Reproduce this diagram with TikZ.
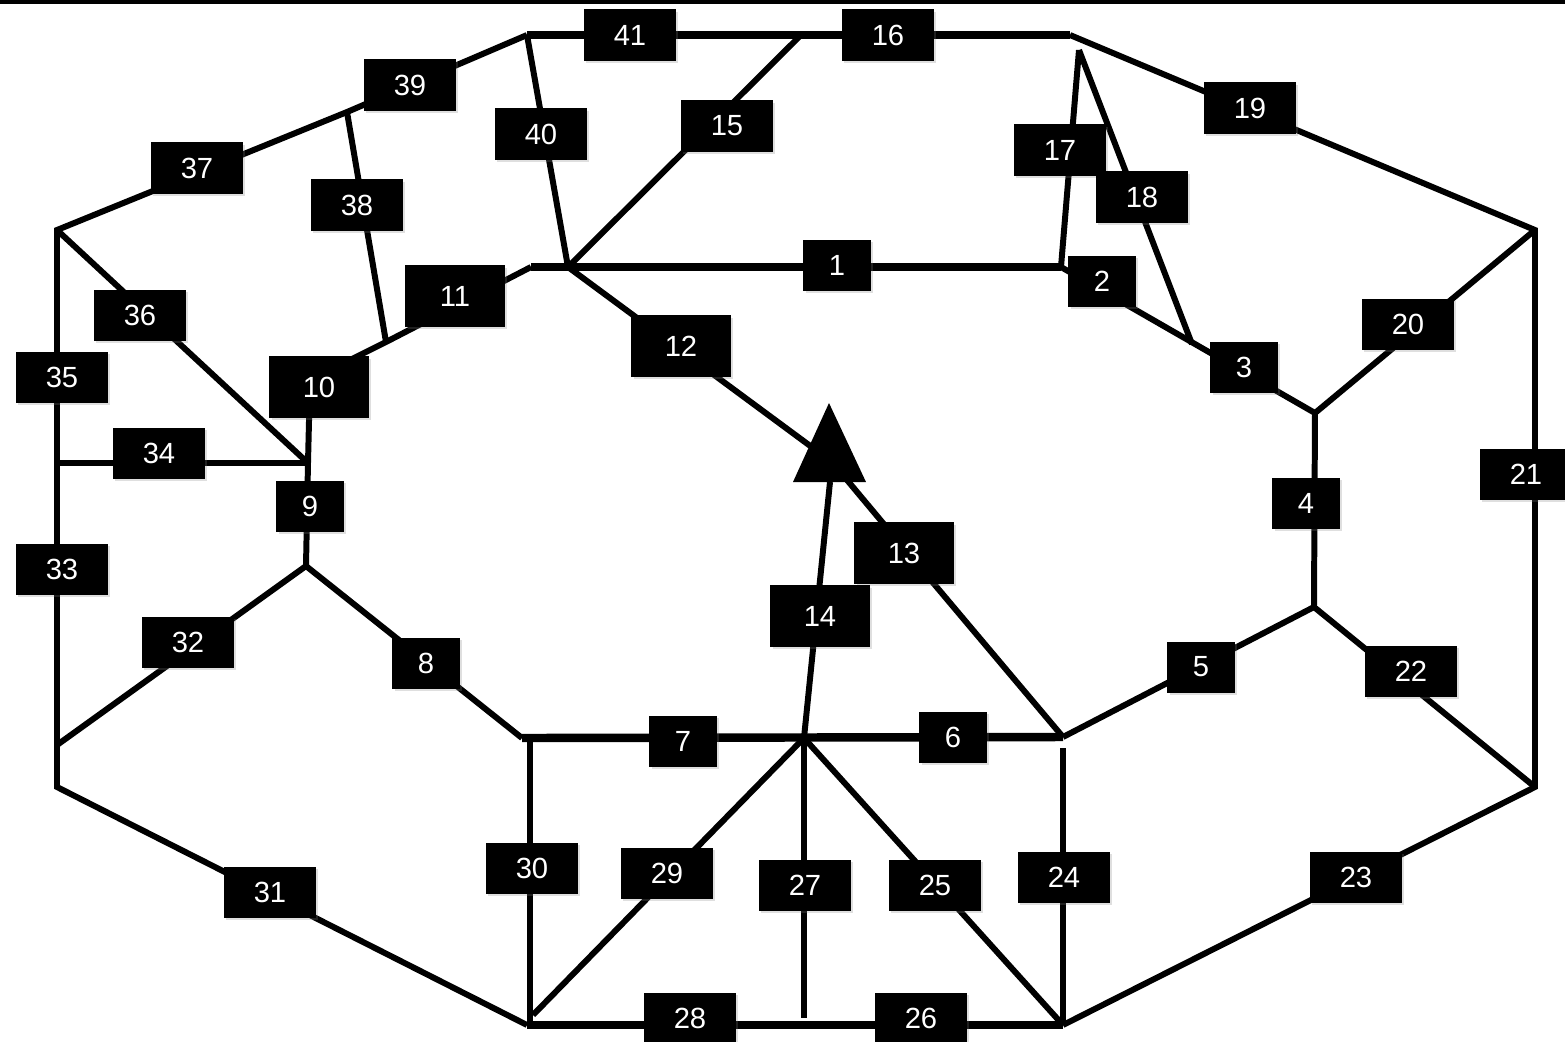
\documentclass[tikz,border=0pt]{standalone}
\usepackage{fontspec}
\setmainfont{Liberation Sans}
\usetikzlibrary{shadows}
\begin{document}
\begin{tikzpicture}[x=0.01cm,y=-0.01cm,
  edge/.style={line width=1.7pt, line join=miter},
  hedge/.style={line width=2.4pt},
  medge/.style={line width=2pt},
  lab/.style={fill=black, text=white, inner sep=0pt, minimum width=0.92cm, minimum height=0.51cm,
    font=\fontsize{8.3}{10}\selectfont,
    drop shadow={shadow xshift=0.6pt, shadow yshift=-0.6pt, opacity=0.25}},
  labs/.style={lab, minimum width=0.67cm},
  labb/.style={lab, minimum width=0.99cm, minimum height=0.61cm}]
\useasboundingbox (0,0) rectangle (1565,1041);
\fill (0,0) rectangle (1565,3.5);
% vertices
\coordinate (A) at (527,35);
\coordinate (B) at (800,36);
\coordinate (C) at (1070,35);
\coordinate (D) at (1535,230);
\coordinate (E) at (1535,787);
\coordinate (F) at (1063,1025);
\coordinate (G) at (527,1025);
\coordinate (H) at (57,787);
\coordinate (I) at (57,230);
\coordinate (J) at (347,112);
\coordinate (K) at (568,267);
\coordinate (K0) at (531,267);
\coordinate (R) at (1061,267);
\coordinate (Ap) at (1079,50);
\coordinate (M18) at (1192,344);
\coordinate (U) at (1315,413);
\coordinate (S) at (1314,607);
\coordinate (Q) at (1063,737);
\coordinate (Q24) at (1063,748);
\coordinate (P) at (804,738);
\coordinate (P0) at (522,738);
\coordinate (P30) at (530,738);
\coordinate (T) at (830,482);
\coordinate (Tb) at (832,462);
\coordinate (B13) at (908,553);
\coordinate (W10) at (310,380);
\coordinate (N9) at (308,463);
\coordinate (N9b) at (306,566);
\coordinate (L34) at (57,463);
\coordinate (L32) at (57,745);
\coordinate (J38) at (386,342);
\coordinate (G29) at (533,1015);
\coordinate (G30) at (530,1022);
\coordinate (P27) at (804,1018);
\coordinate (Tap) at (829,403);
\coordinate (Tl) at (793,482);
\coordinate (Tr) at (866,482);
% outer frame
\draw[edge] (C) -- (D) -- (E) -- (F);
\draw[edge] (G) -- (H) -- (I) -- (J) -- (A);
\draw[medge] (A) -- (C);
\draw[medge] (G) -- (F);
% inner connectors
\draw[edge] (J) -- (J38);
\draw[edge] (A) -- (K);
\draw[edge] (B) -- (K);
\draw[hedge] (K0) -- (R);
\draw[edge] (K0) -- (J38) -- (W10) -- (N9) -- (N9b);
\draw[edge] (K) -- (Tb) -- (B13) -- (Q);
\draw[edge] (Ap) -- (R);
\draw[edge] (Ap) -- (M18);
\draw[edge] (R) -- (U) -- (D);
\draw[edge] (U) -- (S) -- (Q);
\draw[edge] (S) -- (E);
\draw[hedge] (P0) -- (Q);
\draw[edge] (Q24) -- (F);
\draw[edge] (P) -- (F);
\draw[edge] (P) -- (P27);
\draw[edge] (P) -- (G29);
\draw[edge] (P30) -- (G30);
\draw[edge] (N9b) -- (P0);
\draw[edge] (N9b) -- (L32);
\draw[edge] (L34) -- (N9);
\draw[edge] (I) -- (N9);
\draw[edge] (P) -- (T);
\fill (Tap) -- (Tl) -- (Tr) -- cycle;
% labels
\node[labs] (n1) at (837,265) {1};
\node[labs] (n2) at (1102,281) {2};
\node[labs] (n3) at (1244,367) {3};
\node[labs] (n4) at (1306,503) {4};
\node[labs] (n5) at (1201,667) {5};
\node[labs] (n6) at (953,737) {6};
\node[labs] (n7) at (683,741) {7};
\node[labs] (n8) at (426,663) {8};
\node[labs] (n9) at (310,506) {9};
\node[labb] (n10) at (319,387) {10};
\node[labb] (n11) at (455,296) {11};
\node[labb] (n12) at (681,346) {12};
\node[labb] (n13) at (904,553) {13};
\node[labb] (n14) at (820,616) {14};
\node[lab] (n15) at (727,126) {15};
\node[lab] (n16) at (888,35) {16};
\node[lab] (n17) at (1060,150) {17};
\node[lab] (n18) at (1142,197) {18};
\node[lab] (n19) at (1250,108) {19};
\node[lab] (n20) at (1408,324) {20};
\node[lab] (n21) at (1526,474) {21};
\node[lab] (n22) at (1411,671) {22};
\node[lab] (n23) at (1356,877) {23};
\node[lab] (n24) at (1064,877) {24};
\node[lab] (n25) at (935,885) {25};
\node[lab] (n26) at (921,1018) {26};
\node[lab] (n27) at (805,885) {27};
\node[lab] (n28) at (690,1018) {28};
\node[lab] (n29) at (667,873) {29};
\node[lab] (n30) at (532,868) {30};
\node[lab] (n31) at (270,892) {31};
\node[lab] (n32) at (188,642) {32};
\node[lab] (n33) at (62,569) {33};
\node[lab] (n34) at (159,453) {34};
\node[lab] (n35) at (62,377) {35};
\node[lab] (n36) at (140,315) {36};
\node[lab] (n37) at (197,168) {37};
\node[lab] (n38) at (357,205) {38};
\node[lab] (n39) at (410,85) {39};
\node[lab] (n40) at (541,134) {40};
\node[lab] (n41) at (630,35) {41};
\end{tikzpicture}
\end{document}
